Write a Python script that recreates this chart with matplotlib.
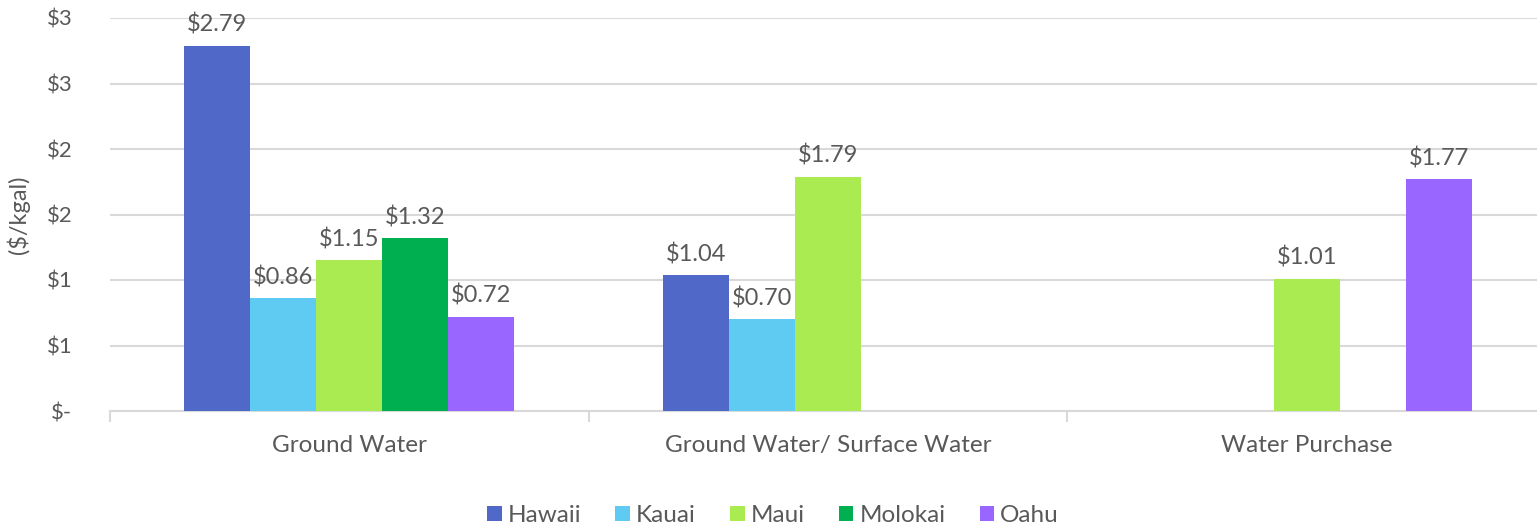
import numpy as np
import matplotlib.pyplot as plt

categories = ['Ground Water', 'Ground Water/ Surface Water', 'Water Purchase']
islands = ['Hawaii', 'Kauai', 'Maui', 'Molokai', 'Oahu']
hawaii = [2.79, 1.04, np.nan]
kauai = [0.86, 0.70, np.nan]
maui = [1.15, 1.79, 1.01]
molokai = [1.32, np.nan, np.nan]
oahu = [0.72, np.nan, 1.77]
ytick_values = [0, 0.5, 1.0, 1.5, 2.0, 2.5, 3.0]
ytick_labels = ['$-', '$1', '$1', '$2', '$2', '$3', '$3']

colors = ['#5068C8', '#5FCBF2', '#A9EB50', '#00B050', '#9966FF']
text_color = '#595959'
grid_color = '#D9D9D9'

plt.rcParams['font.family'] = ['Lato', 'DejaVu Sans']

fig = plt.figure(figsize=(15.37, 5.32), dpi=100)
ax = fig.add_axes([110 / 1537, 121 / 532, (1546 - 110) / 1537, (411 - 18) / 532])

x = np.arange(len(categories))
width = 0.138
series = [hawaii, kauai, maui, molokai, oahu]
for i, (name, vals) in enumerate(zip(islands, series)):
    offs = (i - 2) * width
    vals = np.array(vals, dtype=float)
    ax.bar(x + offs, np.nan_to_num(vals), width, color=colors[i], label=name, zorder=3)
    for xi, v in zip(x, vals):
        if not np.isnan(v):
            ax.annotate(f'${v:.2f}', (xi + offs, v), xytext=(0, 7), textcoords='offset points',
                        ha='center', va='bottom', fontsize=17, color=text_color)

ax.set_xlim(-0.5, len(categories) - 0.5)
ax.set_ylim(0, 3.0)
ax.set_yticks(ytick_values)
ax.set_yticklabels(ytick_labels, fontsize=16, color=text_color)
ax.tick_params(axis='y', length=0, pad=27)
ax.grid(axis='y', color=grid_color, linewidth=1.5, zorder=0)

ax.set_xticks(x)
ax.set_xticklabels(categories, fontsize=17.5, color=text_color)
ax.set_xticks(np.arange(-0.5, len(categories), 1.0), minor=True)
ax.tick_params(axis='x', which='major', length=0, pad=17)
ax.tick_params(axis='x', which='minor', length=8, width=1.5, color=grid_color)

for s in ['top', 'right', 'left']:
    ax.spines[s].set_visible(False)
ax.spines['bottom'].set_color(grid_color)
ax.spines['bottom'].set_linewidth(1.5)

ax.set_ylabel('($/kgal)', fontsize=17, color=text_color, labelpad=12)

leg = fig.legend(loc='lower center', bbox_to_anchor=(0.503, -0.03), ncol=5, frameon=False,
                 fontsize=17.5, handlelength=0.6, handleheight=0.6, handletextpad=0.25,
                 columnspacing=1.4)
for t in leg.get_texts():
    t.set_color(text_color)

fig.savefig('out.png', dpi=100)
